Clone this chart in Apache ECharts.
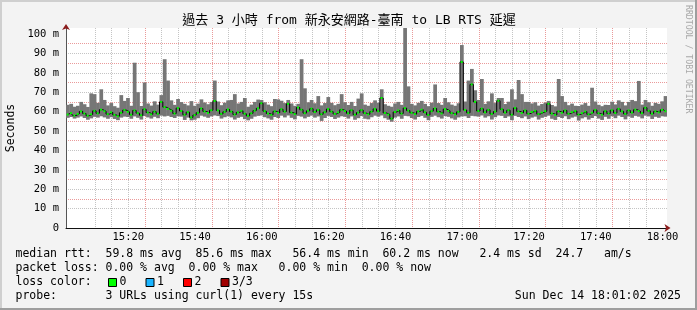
<!DOCTYPE html>
<html><head><meta charset="utf-8">
<script src="https://cdn.jsdelivr.net/npm/echarts@6/dist/echarts.min.js"></script>
<style>html,body{margin:0;padding:0;background:#f3f3f3}#c{width:697px;height:310px}</style>
</head><body><div id="c"></div>
<script>
// ---------- text ----------
const titleText = '過去 3 小時 from 新永安網路-臺南 to LB RTS 延遲';
const yAxisName = 'Seconds';
const watermark = 'RRDTOOL / TOBI OETIKER';
const legendLine1 = 'median rtt:  59.8 ms avg  85.6 ms max   56.4 ms min  60.2 ms now   2.4 ms sd  24.7   am/s';
const legendLine2 = 'packet loss: 0.00 % avg  0.00 % max   0.00 % min  0.00 % now';
const legendLine3 = 'loss color:';
const legendLine4 = 'probe:       3 URLs using curl(1) every 15s';
const dateText = 'Sun Dec 14 18:01:02 2025';
const lossLabels = ['0', '1', '2', '3/3'];
const lossColors = ['#00ff00', '#1ab4ff', '#ff0000', '#a00000'];

// ---------- axes (minutes after 15:00) ----------
const axisStartMin = 4 / 3;      // 15:01:20
const axisEndMin = 544 / 3;      // 18:01:20
const xGridTicks = [5,10,15,20,25,30,35,40,45,50,55,60,65,70,75,80,85,90,95,100,105,110,115,120,125,130,135,140,145,150,155,160,165,170,175,180];
const xLabelTicks = [20,40,60,80,100,120,140,160,180];
const yMax = 103.09;
const yGridTicks = [5,10,15,20,25,30,35,40,45,50,55,60,65,70,75,80,85,90,95,100];
const yLabelTicks = [0,10,20,30,40,50,60,70,80,90,100];

// ---------- samples: one per minute, first centred at 15:01:50 ----------
const firstSampleMin = 4 / 3 + 0.5;
const sampleStepMin = 1;
const medianRtt = [
 58.5,59.2,58.0,58.8,60.1,59.0,57.9,58.6,60.4,59.1,
 61.0,60.2,58.7,59.6,58.3,57.6,59.4,60.8,59.9,58.4,
 60.6,59.2,58.1,61.2,59.5,58.6,60.0,58.9,65.0,62.3,
 61.4,60.5,59.0,61.8,60.3,58.4,59.7,57.0,58.2,59.4,
 61.6,60.1,59.3,60.7,65.5,60.6,58.8,59.9,61.1,60.0,
 58.5,59.6,60.4,58.9,57.8,59.1,60.5,61.7,64.3,60.2,
 59.0,58.3,60.1,59.4,61.2,60.0,64.0,59.5,58.7,62.1,
 61.0,59.2,60.4,61.5,59.8,60.9,58.6,59.7,61.3,60.0,
 58.8,59.6,61.0,60.3,59.1,60.7,58.4,59.5,60.8,59.2,
 58.6,60.0,61.4,60.2,67.0,59.3,58.5,56.4,59.8,60.6,
 59.0,61.8,60.5,59.4,58.7,60.1,61.0,59.6,58.3,60.2,
 61.6,60.0,59.1,61.3,60.4,59.2,58.6,59.9,85.6,60.8,
 59.4,74.0,65.0,60.3,61.5,59.6,60.9,58.8,60.0,65.6,
 61.2,59.5,60.7,58.4,61.9,60.1,59.3,60.6,58.9,59.8,
 60.4,58.7,59.5,60.2,64.0,59.0,58.3,60.1,59.4,60.6,
 58.9,59.7,60.3,58.5,59.2,60.0,58.6,59.4,60.8,59.1,
 58.4,60.2,59.0,60.7,59.3,61.4,60.1,58.8,60.6,59.5,
 61.0,60.3,59.2,62.0,60.4,58.9,60.1,59.6,60.9,60.2
];
const smokeMin = [
 56.8,57.2,56.4,56.9,57.5,56.7,55.8,56.5,57.3,56.9,
 57.6,57.0,56.3,57.1,56.2,55.6,56.9,57.4,57.2,56.3,
 57.5,56.8,55.9,57.7,57.0,56.4,57.3,56.6,57.9,57.5,
 57.8,57.2,56.7,57.6,57.4,55.7,56.9,55.5,55.8,56.6,
 57.9,57.4,56.8,57.5,58.0,57.7,56.4,57.1,57.6,57.0,
 55.9,56.8,57.3,56.1,55.5,56.3,57.4,57.8,58.0,57.1,
 56.5,55.8,57.2,56.7,57.9,57.0,58.0,56.8,56.0,57.8,
 57.4,56.5,57.3,57.9,56.9,57.5,55.2,56.7,57.8,57.2,
 56.2,56.9,57.6,57.3,56.4,57.5,55.8,56.6,57.7,56.3,
 56.0,57.1,57.9,57.4,58.0,56.6,55.8,54.8,56.9,57.5,
 56.3,57.8,57.6,56.7,55.9,57.2,57.8,56.8,55.6,57.3,
 57.9,57.1,56.4,57.7,57.3,56.5,55.8,57.0,57.5,57.6,
 56.7,57.8,57.6,57.4,58.0,56.9,57.6,55.9,57.1,58.0,
 57.8,56.7,57.5,55.6,57.8,57.2,56.6,57.5,56.1,56.9,
 57.4,55.9,56.8,57.3,57.9,56.3,55.7,57.2,56.7,57.6,
 56.1,56.9,57.4,55.4,56.5,57.1,55.9,56.7,57.7,56.4,
 55.7,57.3,56.3,57.6,56.6,57.9,57.2,56.0,57.5,56.8,
 57.8,57.4,56.5,57.9,57.5,56.2,57.3,56.8,57.6,57.4
];
const smokeMax = [
 63.5,64.0,62.5,63.0,65.0,63.8,62.4,69.4,69.0,64.5,
 71.5,66.0,63.2,64.4,62.8,62.0,68.5,65.5,67.0,63.0,
 85.2,70.0,62.9,75.0,64.2,63.1,65.3,63.6,68.5,87.0,
 76.0,65.8,63.5,66.5,64.9,64.0,63.2,65.4,63.0,64.1,
 66.3,64.7,63.8,65.0,76.0,65.2,63.3,64.6,65.8,66.0,
 69.0,64.2,65.0,67.0,62.5,63.6,65.0,66.2,66.0,64.8,
 63.6,62.8,66.5,66.3,65.6,64.4,66.0,64.2,63.0,64.0,
 87.0,72.0,64.8,66.0,64.3,68.0,63.2,64.4,67.5,64.5,
 63.3,64.0,69.0,64.8,63.4,65.0,62.9,66.7,69.4,63.6,
 63.0,64.4,65.8,64.6,71.5,63.8,63.0,62.5,64.2,65.0,
 63.5,104.0,73.0,64.0,63.2,64.5,65.5,64.0,62.8,64.6,
 74.0,64.4,63.5,67.0,64.8,63.6,63.0,64.3,94.3,65.2,
 76.0,82.0,71.0,66.0,76.8,64.0,65.3,69.4,64.4,67.0,
 67.0,63.9,65.1,71.5,66.3,76.3,69.0,65.0,65.0,64.2,
 64.8,63.1,63.9,64.6,65.5,63.4,62.7,76.8,68.0,65.0,
 63.3,64.1,63.0,62.9,63.6,64.4,63.0,72.3,65.2,63.5,
 62.8,63.5,63.4,65.1,63.7,65.8,65.0,63.2,65.0,66.0,
 65.4,75.8,63.6,66.0,64.8,63.0,64.5,64.0,65.3,68.0
];

// ---------- build ----------
const MONO = '"DejaVu Sans Mono", "Noto Sans CJK TC", monospace';
const sampleTimes = medianRtt.map((_, i) => firstSampleMin + i * sampleStepMin);
const smokeData = sampleTimes.map((t, i) => [t, smokeMin[i], smokeMax[i]]);
const medianData = sampleTimes.map((t, i) => [t, medianRtt[i]]);

function fmtClock(m) {
  const total = Math.round(15 * 60 + m);
  const h = Math.floor(total / 60), mm = total % 60;
  return h + ':' + (mm < 10 ? '0' : '') + mm;
}
const minorGrid = '#c4c4c4', majorGrid = '#ea9a9a', arrowColor = '#8b1c1c';

const chart = echarts.init(document.getElementById('c'), null, { renderer: 'canvas' });

const legendGraphics = [];
const lineY = [254.3, 268.3, 282.3, 296.3];
[legendLine1, legendLine2, legendLine3, legendLine4].forEach((t, k) => {
  legendGraphics.push({ type: 'text', x: 15.5, y: lineY[k], style: { text: t, font: '11.5px ' + MONO, fill: '#000', verticalAlign: 'middle' } });
});
lossLabels.forEach((lab, k) => {
  const bx = 108 + k * 37.5;
  legendGraphics.push({ type: 'rect', shape: { x: bx + 0.5, y: 278.5, width: 8, height: 8 }, style: { fill: lossColors[k], stroke: '#000', lineWidth: 1 } });
  legendGraphics.push({ type: 'text', x: bx + 11.5, y: lineY[2], style: { text: lab, font: '11.5px ' + MONO, fill: '#000', verticalAlign: 'middle' } });
});
legendGraphics.push({ type: 'text', x: 681, y: lineY[3], style: { text: dateText, font: '11.5px ' + MONO, fill: '#000', align: 'right', verticalAlign: 'middle' } });

chart.setOption({
  animation: false,
  backgroundColor: '#f3f3f3',
  grid: { left: 66, right: 30, top: 28, bottom: 82, containLabel: false, outerBoundsMode: 'none',
    show: true, backgroundColor: '#ffffff', borderWidth: 0 },
  xAxis: [{
    type: 'value', min: axisStartMin, max: axisEndMin, position: 'bottom',
    axisLine: { show: true, lineStyle: { color: '#111', width: 1 } },
    axisTick: { show: false, customValues: xGridTicks },
    splitLine: { show: true, customValues: xGridTicks, showMinLine: false, showMaxLine: false,
      lineStyle: { color: [minorGrid, minorGrid, minorGrid, majorGrid], type: [1, 1], width: 1 } },
    axisLabel: { customValues: xLabelTicks, formatter: fmtClock, margin: 4, color: '#000', fontFamily: MONO, fontSize: 10.5 }
  }, {
    type: 'value', min: axisStartMin, max: axisEndMin, position: 'bottom',
    axisLine: { show: true, symbol: ['none', 'arrow'], symbolSize: [6, 6], symbolOffset: [0, 3.5], lineStyle: { color: arrowColor, width: 0 } },
    axisTick: { show: false }, axisLabel: { show: false }, splitLine: { show: false }
  }],
  yAxis: [{
    type: 'value', min: 0, max: yMax, position: 'left',
    name: yAxisName, nameLocation: 'middle', nameGap: 48,
    nameTextStyle: { fontFamily: MONO, fontSize: 11.5, color: '#000' },
    axisLine: { show: true, lineStyle: { color: '#555', width: 1 } },
    axisTick: { show: false, customValues: yGridTicks },
    splitLine: { show: true, customValues: yGridTicks, showMinLine: false, showMaxLine: false,
      lineStyle: { color: [minorGrid, majorGrid], type: [1, 1], width: 1 } },
    axisLabel: { customValues: yLabelTicks, formatter: v => v === 0 ? '0' : v + ' m', margin: 7, color: '#000', fontFamily: MONO, fontSize: 10.5 }
  }, {
    type: 'value', min: 0, max: yMax, position: 'left',
    axisLine: { show: true, symbol: ['none', 'arrow'], symbolSize: [6, 6], symbolOffset: [0, 4], lineStyle: { color: arrowColor, width: 0 } },
    axisTick: { show: false }, axisLabel: { show: false }, splitLine: { show: false }
  }],
  series: [{
    type: 'custom', name: 'smoke', xAxisIndex: 0, yAxisIndex: 0, clip: true, z: 2,
    data: smokeData, encode: { x: 0, y: [1, 2] },
    renderItem: (params, api) => {
      const t = api.value(0);
      const p0 = api.coord([t - sampleStepMin / 2, api.value(2)]);
      const p1 = api.coord([t + sampleStepMin / 2, api.value(1)]);
      return { type: 'rect', shape: { x: p0[0], y: p0[1], width: p1[0] - p0[0] + 0.4, height: p1[1] - p0[1] }, style: { fill: '#767676' } };
    }
  }, {
    type: 'line', name: 'median', xAxisIndex: 0, yAxisIndex: 0, step: 'middle', z: 3,
    data: medianData, showSymbol: false, symbol: 'none',
    lineStyle: { color: '#000', width: 1 }
  }, {
    type: 'custom', name: 'loss0', xAxisIndex: 0, yAxisIndex: 0, clip: true, z: 4,
    data: medianData, encode: { x: 0, y: 1 },
    renderItem: (params, api) => {
      const t = api.value(0), m = api.value(1);
      const p0 = api.coord([t - sampleStepMin * 0.3, m]);
      const p1 = api.coord([t + sampleStepMin * 0.3, m]);
      return { type: 'rect', shape: { x: p0[0], y: p0[1] - 1, width: p1[0] - p0[0], height: 2 }, style: { fill: '#00ff00' } };
    }
  }],
  graphic: [
    { type: 'rect', shape: { x: 0, y: 0, width: 697, height: 2 }, style: { fill: '#cfcfcf' }, silent: true },
    { type: 'rect', shape: { x: 0, y: 0, width: 2, height: 310 }, style: { fill: '#cfcfcf' }, silent: true },
    { type: 'rect', shape: { x: 0, y: 308, width: 697, height: 2 }, style: { fill: '#9e9e9e' }, silent: true },
    { type: 'rect', shape: { x: 695, y: 0, width: 2, height: 310 }, style: { fill: '#9e9e9e' }, silent: true },
    { type: 'text', x: 349, y: 21, style: { text: titleText, font: '13px ' + MONO, fill: '#000', align: 'center', verticalAlign: 'middle' } },
    { type: 'text', x: 688, y: 5, rotation: -Math.PI / 2, style: { text: watermark, font: '8.2px ' + MONO, fill: '#a8a8a8', align: 'left', verticalAlign: 'middle' } }
  ].concat(legendGraphics)
});
</script>
</body></html>
